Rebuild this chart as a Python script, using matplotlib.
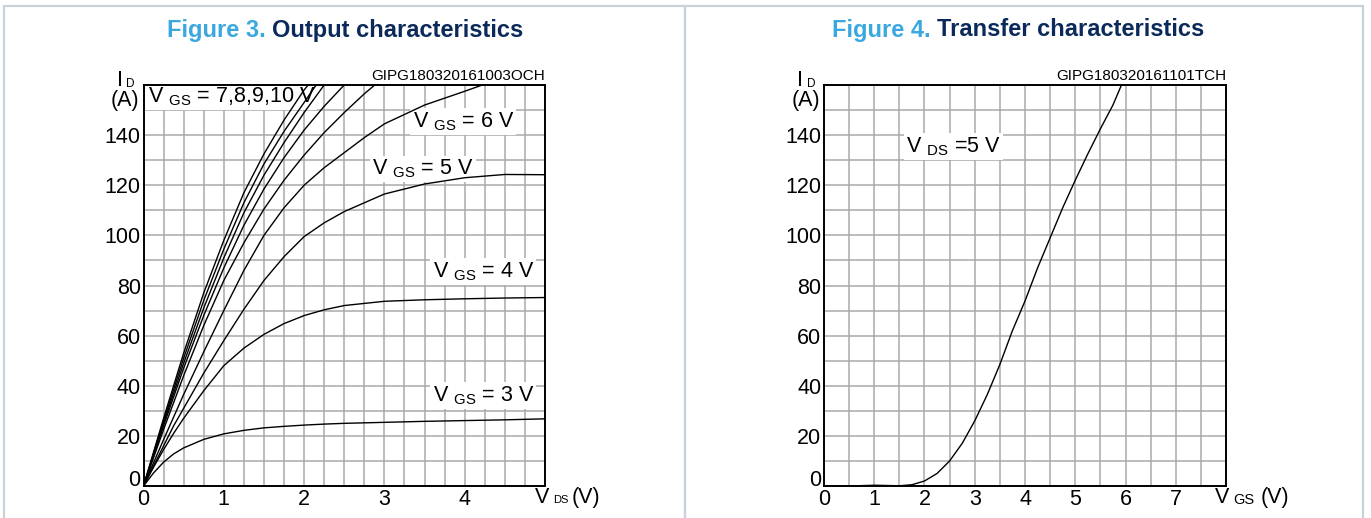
import matplotlib

matplotlib.use("Agg")

import matplotlib.pyplot as plt
from matplotlib.patches import Rectangle
from matplotlib.ticker import MultipleLocator

plt.rcParams["font.family"] = ["Liberation Sans", "DejaVu Sans"]
plt.rcParams["mathtext.fontset"] = "custom"
plt.rcParams["mathtext.rm"] = "Liberation Sans"

# ---- Figure 3: output characteristics (VDS in V, ID in A) ----
vds_full = [0, 0.125, 0.25, 0.375, 0.5, 0.75, 1.0, 1.25, 1.5, 1.75, 2.0, 2.25, 2.5, 3.0, 3.5, 4.0, 4.5, 5.0]
id_vgs3 = [0, 5.2, 9.5, 12.8, 15.2, 18.6, 20.8, 22.2, 23.2, 23.8, 24.3, 24.7, 25.0, 25.4, 25.8, 26.1, 26.4, 26.8]
id_vgs4 = [0, 7.5, 14.5, 21, 27, 38, 48, 55, 60.5, 64.8, 68, 70.3, 72, 73.7, 74.3, 74.7, 75, 75.2]
id_vgs5 = [0, 8, 16, 24, 31, 45, 58, 70.5, 82, 91.5, 99.5, 105, 109.5, 116.5, 120.5, 123, 124.3, 124.2]

vds_vgs6 = [0, 0.25, 0.5, 0.75, 1.0, 1.25, 1.5, 1.75, 2.0, 2.25, 2.5, 2.75, 3.0, 3.5, 4.0, 4.22]
id_vgs6 = [0, 18.5, 36.5, 53.5, 70, 86, 100, 111, 120, 127, 133, 139, 144.5, 152, 157.5, 160]

vds_c1 = [0, 0.25, 0.5, 0.75, 1.0, 1.25, 1.5, 1.75, 2.0, 2.05]
id_c1 = [0, 27, 53, 77, 98, 117, 132.5, 146, 158, 160]
vds_c2 = [0, 0.25, 0.5, 0.75, 1.0, 1.25, 1.5, 1.75, 2.0, 2.15]
id_c2 = [0, 26, 51, 74, 94.5, 113, 128.5, 141.5, 153, 160]
vds_c3 = [0, 0.25, 0.5, 0.75, 1.0, 1.25, 1.5, 1.75, 2.0, 2.25]
id_c3 = [0, 25, 49, 71, 91, 109, 124, 137, 149, 160]
vds_c4 = [0, 0.25, 0.5, 0.75, 1.0, 1.25, 1.5, 1.75, 2.0, 2.25, 2.5]
id_c4 = [0, 24, 47, 68, 87, 104, 118.5, 131, 142, 151.5, 160]
vds_c5 = [0, 0.25, 0.5, 0.75, 1.0, 1.25, 1.5, 1.75, 2.0, 2.25, 2.5, 2.75, 2.88]
id_c5 = [0, 22.5, 44, 64, 82, 97, 110.5, 122, 132, 141, 149, 156.5, 160]

# ---- Figure 4: transfer characteristics (VGS in V, ID in A) ----
vgs_transfer = [0, 0.5, 1.0, 1.5, 1.75, 2.0, 2.25, 2.5, 2.75, 3.0, 3.25, 3.5, 3.75, 4.0,
                4.25, 4.5, 4.75, 5.0, 5.25, 5.5, 5.75, 5.92]
id_transfer = [0, 0, 0.3, 0.1, 0.5, 2, 5, 10, 17, 26, 36.5, 48.5, 62, 73.8,
               87, 99, 111, 122, 132.5, 142.5, 152, 160]

y_ticks = [0, 20, 40, 60, 80, 100, 120, 140]
x_ticks_output = [0, 1, 2, 3, 4]
x_ticks_transfer = [0, 1, 2, 3, 4, 5, 6, 7]

FIG_W, FIG_H = 1371, 518
GRID = "#a9a9a9"
BORDER = "#c9d2da"
TITLE_BLUE = "#3aa8df"
TITLE_NAVY = "#0b2a5b"
FS = 15.5


def px_rect(x0, y0, x1, y1):
    return [x0 / FIG_W, 1 - y1 / FIG_H, (x1 - x0) / FIG_W, (y1 - y0) / FIG_H]


def setup_axes(ax, xmax, xminor, xticks, code):
    ax.set_xlim(0, xmax)
    ax.set_ylim(0, 160)
    ax.set_xticks(xticks)
    ax.set_yticks(y_ticks)
    ax.xaxis.set_minor_locator(MultipleLocator(xminor))
    ax.yaxis.set_minor_locator(MultipleLocator(10))
    ax.set_axisbelow(True)
    ax.grid(which="both", color=GRID, linewidth=1.1)
    ax.tick_params(which="both", length=0, labelsize=FS, pad=2)
    ax.get_yticklabels()[0].set_verticalalignment("baseline")
    for spine in ax.spines.values():
        spine.set_linewidth(1.4)
        spine.set_color("black")
    ax.text(1.0, 1.004, code, transform=ax.transAxes, ha="right", va="bottom", fontsize=11)
    ax.text(-0.066, 0.998, "I", transform=ax.transAxes, ha="left", va="baseline", fontsize=FS)
    ax.text(-0.043, 0.996, "D", transform=ax.transAxes, ha="left", va="baseline", fontsize=8.5)
    ax.text(-0.046, 0.962, "(A)", transform=ax.transAxes, ha="center", va="center", fontsize=FS)


def axis_name(ax, x_main, x_sub, x_unit, sub, sub_size):
    ax.text(x_main, -0.028, "V", transform=ax.transAxes, ha="left", va="center", fontsize=FS)
    ax.text(x_sub, -0.036, sub, transform=ax.transAxes, ha="left", va="center", fontsize=sub_size)
    ax.text(x_unit, -0.028, "(V)", transform=ax.transAxes, ha="left", va="center", fontsize=FS)


def label(ax, x, y, s):
    ax.text(x, y, s, ha="left", va="center", fontsize=FS, zorder=2.5,
            bbox=dict(facecolor="white", edgecolor="none", pad=1.5))


fig = plt.figure(figsize=(FIG_W / 100, FIG_H / 100), dpi=100)
fig.patch.set_facecolor("white")

for x0, x1 in [(4, 685), (685, 1363)]:
    fig.patches.append(Rectangle((x0 / FIG_W, -0.1), (x1 - x0) / FIG_W, 1.1 - 6.5 / FIG_H,
                                 transform=fig.transFigure, fill=False,
                                 edgecolor=BORDER, linewidth=1.6))

# titles
fig.text(266 / FIG_W, 1 - 30 / FIG_H, "Figure 3.", ha="right", va="center",
         fontsize=17, fontweight="bold", color=TITLE_BLUE)
fig.text(272 / FIG_W, 1 - 30 / FIG_H, "Output characteristics", ha="left", va="center",
         fontsize=17, fontweight="bold", color=TITLE_NAVY)
fig.text(931 / FIG_W, 1 - 30 / FIG_H, "Figure 4.", ha="right", va="center",
         fontsize=17, fontweight="bold", color=TITLE_BLUE)
fig.text(937 / FIG_W, 1 - 30 / FIG_H, "Transfer characteristics", ha="left", va="center",
         fontsize=17, fontweight="bold", color=TITLE_NAVY)

# left panel
ax1 = fig.add_axes(px_rect(143.5, 85, 545, 486))
setup_axes(ax1, 5, 0.25, x_ticks_output, "GIPG180320161003OCH")
line_kw = dict(color="black", linewidth=1.0, zorder=3)
for xs, ys in [(vds_full, id_vgs3), (vds_full, id_vgs4), (vds_full, id_vgs5),
               (vds_vgs6, id_vgs6), (vds_c1, id_c1), (vds_c2, id_c2),
               (vds_c3, id_c3), (vds_c4, id_c4), (vds_c5, id_c5)]:
    ax1.plot(xs, ys, **line_kw)
label(ax1, 0.05, 155.5, r"V $\mathregular{_{GS}}$ = 7,8,9,10 V")
label(ax1, 3.35, 145.5, r"V $\mathregular{_{GS}}$ = 6 V")
label(ax1, 2.85, 126.5, r"V $\mathregular{_{GS}}$ = 5 V")
label(ax1, 3.6, 85.5, r"V $\mathregular{_{GS}}$ = 4 V")
label(ax1, 3.6, 36, r"V $\mathregular{_{GS}}$ = 3 V")
axis_name(ax1, 0.975, 1.021, 1.066, "DS", 8)

# right panel
ax2 = fig.add_axes(px_rect(824, 85, 1226, 486))
setup_axes(ax2, 8, 0.5, x_ticks_transfer, "GIPG180320161101TCH")
ax2.plot(vgs_transfer, id_transfer, **line_kw)
label(ax2, 1.63, 135.5, r"V $\mathregular{_{DS}}$ =5 V")
axis_name(ax2, 0.973, 1.017, 1.085, "GS", 10.5)

fig.savefig("out.png", dpi=100, facecolor="white")
